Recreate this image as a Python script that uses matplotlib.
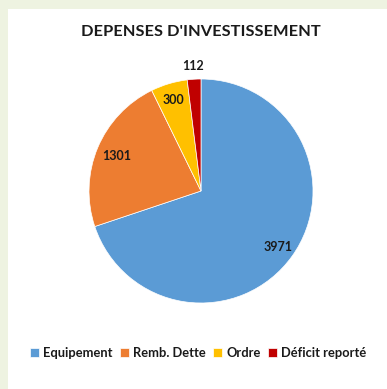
import numpy as np
import matplotlib
matplotlib.use("Agg")
import matplotlib.pyplot as plt
from matplotlib.patches import Rectangle

# data
categories = ["Equipement", "Remb. Dette", "Ordre", "Déficit reporté"]
values = [3971, 1301, 300, 112]
colors = ["#5B9BD5", "#ED7D31", "#FFC000", "#C00000"]
label_dist = [0.85, 0.82, 0.85, 1.12]

plt.rcParams['font.family'] = ['Lato', 'DejaVu Sans']

fig = plt.figure(figsize=(3.87, 3.89), dpi=100)
fig.patch.set_facecolor("#EEF3E1")
# white chart panel
fig.patches.append(Rectangle((8 / 387, 0), 1, 1 - 9 / 389, transform=fig.transFigure,
                             facecolor="white", edgecolor="none", zorder=-1))

# pie axes: centre ~ (201, 191) px, radius ~112 px
cx, cy, r = 201 / 387, 1 - 191 / 389, 112
ax = fig.add_axes([cx - r / 387, cy - r / 389, 2 * r / 387, 2 * r / 389])
ax.set_zorder(1)
wedges, _ = ax.pie(values, colors=colors, startangle=90, counterclock=False,
                   wedgeprops=dict(edgecolor="white", linewidth=0.5))
ax.set_xlim(-1, 1)
ax.set_ylim(-1, 1)
ax.set_aspect("equal")
ax.axis("off")

for w, v, d in zip(wedges, values, label_dist):
    ang = np.deg2rad((w.theta1 + w.theta2) / 2)
    ax.text(d * np.cos(ang), d * np.sin(ang), str(v), ha="center", va="center",
            fontsize=9, fontweight="bold", color="#1a1a1a", clip_on=False)

fig.text(201 / 387, 1 - 32 / 389, "DEPENSES D'INVESTISSEMENT", ha="center", va="center",
         fontsize=11.8, fontweight="bold", color="#1a1a1a")

leg = fig.legend(wedges, categories, loc="center", bbox_to_anchor=(198 / 387, 1 - 353 / 389),
                 ncol=4, frameon=False, handlelength=0.7, handleheight=0.7, handletextpad=0.3,
                 columnspacing=0.6, prop=dict(size=9.3, weight="bold"))
for t in leg.get_texts():
    t.set_color("#1a1a1a")

fig.savefig("out.png", dpi=100, facecolor=fig.get_facecolor())
